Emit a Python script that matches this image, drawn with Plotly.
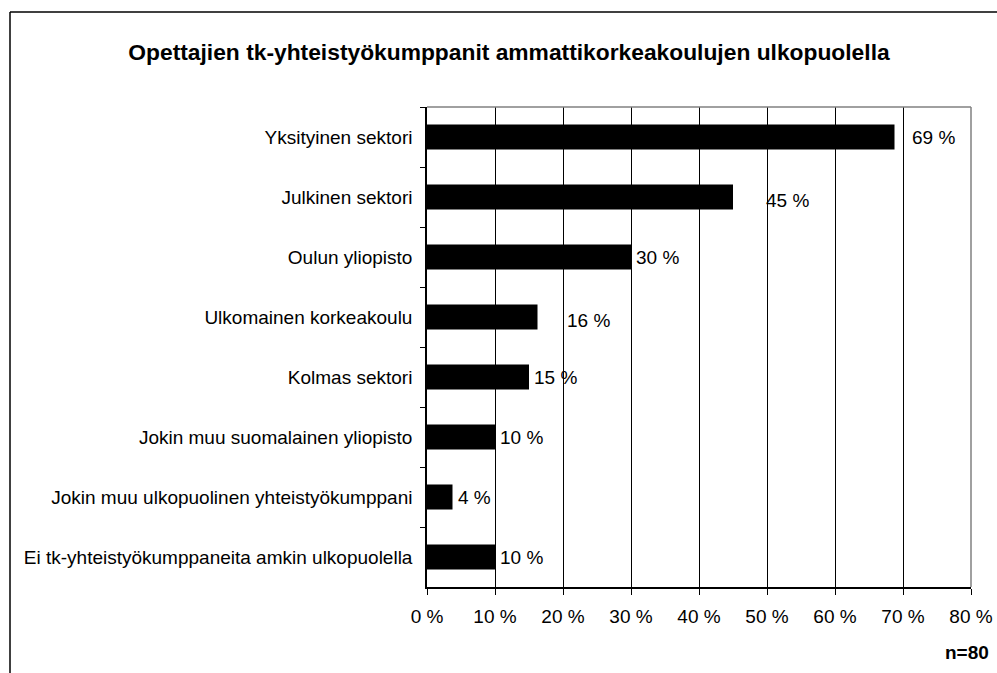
import plotly.graph_objects as go

categories = [
    "Yksityinen sektori",
    "Julkinen sektori",
    "Oulun yliopisto",
    "Ulkomainen korkeakoulu",
    "Kolmas sektori",
    "Jokin muu suomalainen yliopisto",
    "Jokin muu ulkopuolinen yhteistyökumppani",
    "Ei tk-yhteistyökumppaneita amkin ulkopuolella",
]
values = [68.75, 45.0, 30.0, 16.25, 15.0, 10.0, 3.75, 10.0]
value_labels = ["69 %", "45 %", "30 %", "16 %", "15 %", "10 %", "4 %", "10 %"]
tick_values = [0, 10, 20, 30, 40, 50, 60, 70, 80]
tick_labels = ["0 %", "10 %", "20 %", "30 %", "40 %", "50 %", "60 %", "70 %", "80 %"]
title_text = "Opettajien tk-yhteistyökumppanit ammattikorkeakoulujen ulkopuolella"
note_text = "n=80"

# style: label offsets (pixels) as in the original chart
label_xshift = [15, 31, 3, 27, 3, 3, 3, 3]
label_yshift = [0, -3, 0, -3, 0, 0, 0, 0]

FONT = "Liberation Sans, Arial, sans-serif"
FS = 19

fig = go.Figure(go.Bar(
    x=values, y=categories, orientation="h",
    marker=dict(color="#000000", line=dict(width=0)),
    hoverinfo="skip",
))

for v, c, t, dx, dy in zip(values, categories, value_labels, label_xshift, label_yshift):
    fig.add_annotation(x=v, y=c, text=t, showarrow=False, xanchor="left",
                       xshift=dx, yshift=dy, font=dict(size=FS, color="#000", family=FONT))

W, H = 997, 673
L, R, T, B = 427, 26, 107, 86
pw, ph = W - L - R, H - T - B

def px(x):
    return (x - L) / pw

def py(y):
    return (H - B - y) / ph

# outer border (left and top visible in original)
fig.add_shape(type="line", xref="paper", yref="paper", x0=px(10), x1=px(1100), y0=py(12), y1=py(12),
              line=dict(color="#000", width=1.5), layer="above")
fig.add_shape(type="line", xref="paper", yref="paper", x0=px(10), x1=px(10), y0=py(12), y1=py(700),
              line=dict(color="#000", width=1.5), layer="above")
# plot frame top and right (gray)
fig.add_shape(type="line", xref="paper", yref="paper", x0=0, x1=1, y0=1, y1=1,
              line=dict(color="#808080", width=1.5), layer="above")
fig.add_shape(type="line", xref="paper", yref="paper", x0=1, x1=1, y0=0, y1=1,
              line=dict(color="#808080", width=1.5), layer="above")

fig.add_annotation(xref="paper", yref="paper", x=px(991), y=py(652), text="<b>" + note_text + "</b>",
                   showarrow=False, xanchor="right", yanchor="middle",
                   font=dict(size=FS, color="#000", family=FONT))

fig.update_layout(
    width=W, height=H,
    margin=dict(l=L, r=R, t=T, b=B, autoexpand=False),
    paper_bgcolor="#ffffff", plot_bgcolor="#ffffff",
    showlegend=False,
    bargap=0.583,
    font=dict(family=FONT, size=FS, color="#000"),
    title=dict(text="<b>" + title_text + "</b>", x=509 / W, xanchor="center",
               y=1 - 52 / H, yanchor="middle", xref="container", yref="container",
               font=dict(size=22.8, color="#000", family=FONT)),
    xaxis=dict(range=[0, 80], tickvals=tick_values, ticktext=tick_labels,
               showgrid=True, gridcolor="#000000", gridwidth=1,
               zeroline=False, showline=True, linecolor="#000", linewidth=1.5,
               ticks="outside", ticklen=6, tickcolor="#000", ticklabelstandoff=5,
               tickfont=dict(size=FS, color="#000", family=FONT), fixedrange=True),
    yaxis=dict(categoryorder="array", categoryarray=categories, autorange="reversed",
               showgrid=False, zeroline=False, showline=True, linecolor="#000", linewidth=1.5,
               ticks="outside", ticklen=5, tickcolor="#000", tickson="boundaries",
               ticklabelstandoff=9,
               tickfont=dict(size=FS, color="#000", family=FONT), fixedrange=True),
)

fig.write_html("out.html", config={"displayModeBar": False},
               post_script="document.body.style.margin='0';document.body.style.overflow='hidden';")
